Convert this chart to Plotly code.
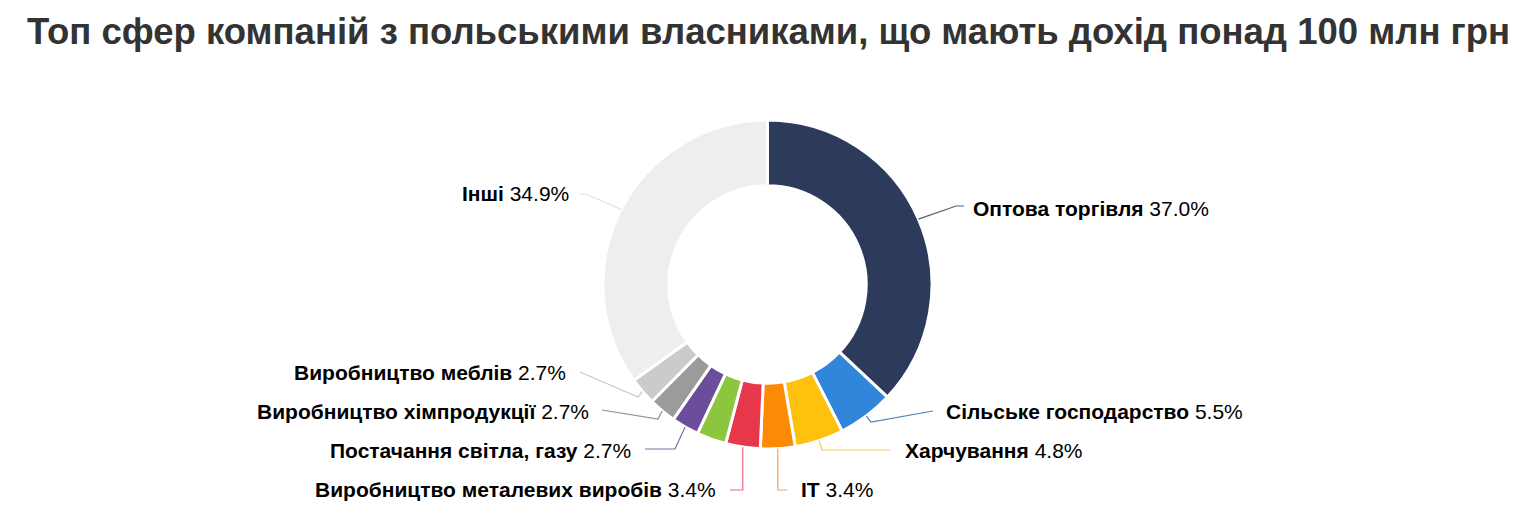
import math
import plotly.graph_objects as go

# ---- data ----
categories = ["Оптова торгівля", "Сільське господарство", "Харчування", "IT",
              "Виробництво металевих виробів", "(без підпису)", "Постачання світла, газу",
              "Виробництво хімпродукції", "Виробництво меблів", "Інші"]
values = [37.0, 5.5, 4.8, 3.4, 3.4, 2.9, 2.7, 2.7, 2.7, 34.9]
show_label = [True, True, True, True, True, False, True, True, True, True]
colors = ["#2c3b5b", "#2f86da", "#fec10e", "#fd8a05", "#e7374a", "#8cc63f",
          "#6b4d9b", "#9b9b9b", "#cbcbcb", "#eeeeee"]
line_colors = ["#555e70", "#4a83c4", "#fdc94a", "#f8a04a", "#e76b7f", "#8cc63f",
               "#7f6aa8", "#8f8f9a", "#c8c8c8", "#e2e2e2"]

title = "Топ сфер компаній з польськими власниками, що мають дохід понад 100 млн грн"

W, H = 1536, 517
# pie geometry (px)
cx, cy, R = 767.5, 284.5, 164.5

# label layout (px): anchor x, y, side ; connector bend point and end point
label_layout = {
    0: dict(x=971, y=208, side="left", bend=(956, 206), end=(964, 206)),
    1: dict(x=944, y=411, side="left", bend=(871, 422), end=(933, 411)),
    2: dict(x=903, y=450, side="left", bend=(822, 450), end=(890, 450)),
    3: dict(x=799, y=490, side="left", bend=None, end=(787, 490)),
    4: dict(x=718, y=490, side="right", bend=None, end=(730, 490)),
    6: dict(x=633, y=450, side="right", bend=(675, 449), end=(645, 449)),
    7: dict(x=591, y=411, side="right", bend=(658, 419), end=(602, 410)),
    8: dict(x=568, y=372, side="right", bend=(638, 397), end=(580, 372)),
    9: dict(x=571, y=194, side="right", bend=(586, 194), end=(579, 194)),
}

def px(x):
    return x / W

def py(y):
    return 1 - y / H

fig = go.Figure(go.Pie(
    labels=categories,
    values=values,
    sort=False,
    direction="clockwise",
    rotation=0,
    hole=0.6,
    textinfo="none",
    hoverinfo="label+percent",
    marker=dict(colors=colors, line=dict(color="#ffffff", width=3)),
    domain=dict(x=[px(cx - R), px(cx + R)], y=[py(cy + R), py(cy - R)]),
    showlegend=False,
))

total = sum(values)
cum = 0.0
annotations = []
shapes = []
for i, v in enumerate(values):
    mid = (cum + v / 2) / total * 2 * math.pi
    cum += v
    if not show_label[i]:
        continue
    lay = label_layout[i]
    ex = cx + R * math.sin(mid)
    ey = cy - R * math.cos(mid)
    bend = lay["bend"] if lay["bend"] is not None else (ex, lay["end"][1])
    pts = [(ex, ey), bend, lay["end"]]
    path = "M " + " L ".join(f"{px(a):.5f},{py(b):.5f}" for a, b in pts)
    shapes.append(dict(type="path", path=path, xref="paper", yref="paper",
                       line=dict(color=line_colors[i], width=1.2)))
    annotations.append(dict(
        x=px(lay["x"]), y=py(lay["y"]), xref="paper", yref="paper",
        xanchor=lay["side"], yanchor="middle", showarrow=False,
        text=f"<b>{categories[i]}</b> {v:.1f}%",
        font=dict(family="Liberation Sans, Arial, sans-serif", size=21, color="#000000"),
    ))

annotations.append(dict(
    x=0.5, y=py(31), xref="paper", yref="paper", xanchor="center", yanchor="middle",
    showarrow=False, text=f"<b>{title}</b>",
    font=dict(family="Liberation Sans, Arial, sans-serif", size=36.5, color="#333333"),
))

fig.update_layout(
    width=W, height=H,
    margin=dict(l=0, r=0, t=0, b=0),
    paper_bgcolor="#ffffff", plot_bgcolor="#ffffff",
    annotations=annotations, shapes=shapes,
)

fig.write_html("out.html")
